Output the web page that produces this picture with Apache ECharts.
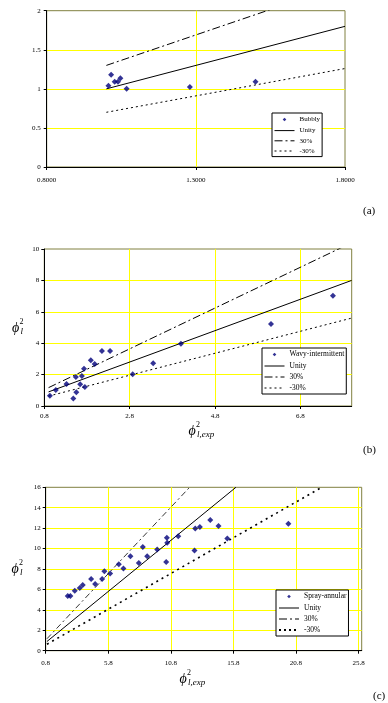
<!DOCTYPE html>
<html><head><meta charset="utf-8">
<script src="https://cdn.jsdelivr.net/npm/echarts@6/dist/echarts.min.js"></script>
<style>html,body{margin:0;padding:0;background:#fff}#c{width:388px;height:703px}</style>
</head><body><div id="c"></div>
<script>
// ---- Panel (a): Bubbly ----
const bubblyX = [1.007, 1.016, 1.028, 1.039, 1.047, 1.068, 1.280, 1.500];
const bubblyY = [1.04, 1.18, 1.09, 1.09, 1.135, 1.00, 1.025, 1.09];
const aLineX = [1.0, 1.8];
const aUnityY = [1.0, 1.8];
const aPlusY = [1.3, 2.34];
const aMinusY = [0.7, 1.26];
const aXTicks = [0.8, 1.3, 1.8];

// ---- Panel (b): Wavy-intermittent ----
const wavyX = [0.93, 1.07, 1.32, 1.48, 1.54, 1.55, 1.64, 1.68, 1.73, 1.75, 1.89, 1.98, 2.15, 2.34, 2.87, 3.35, 4.00, 6.11, 7.56];
const wavyY = [0.66, 1.02, 1.40, 0.47, 1.85, 0.87, 1.38, 1.91, 2.38, 1.21, 2.91, 2.68, 3.50, 3.50, 2.02, 2.72, 3.97, 5.22, 7.03];
const bLineX = [0.9, 8.0];
const bUnityY = [0.9, 8.0];
const bPlusY = [1.17, 10.4];
const bMinusY = [0.63, 5.6];
const bXTicks = [0.8, 2.8, 4.8, 6.8];

// ---- Panel (c): Spray-annular ----
const sprayX = [2.56, 2.77, 3.12, 3.52, 3.76, 4.43, 4.75, 5.31, 5.49, 5.95, 6.64, 7.01, 7.57, 8.24, 8.56, 8.91, 9.71, 10.43, 10.48, 10.51, 11.39, 12.69, 12.75, 13.12, 13.95, 14.61, 15.31, 20.19];
const sprayY = [5.36, 5.36, 5.88, 6.14, 6.44, 7.03, 6.54, 7.03, 7.78, 7.55, 8.46, 8.04, 9.25, 8.59, 10.16, 9.25, 9.90, 8.69, 11.05, 10.56, 11.21, 9.80, 11.96, 12.12, 12.81, 12.22, 10.98, 12.42];
const cUnityX = [0.9, 16.0];
const cUnityY = [0.9, 16.0];
const cPlusX = [0.9, 12.3];
const cPlusY = [1.17, 16.0];
const cMinusX = [0.9, 22.86];
const cMinusY = [0.63, 16.0];
const cXTicks = [0.8, 5.8, 10.8, 15.8, 20.8, 25.8];

const FONT = 'Liberation Serif';
const zip = (xs, ys) => xs.map((x, i) => [x, ys[i]]);

function xAx(gi, min, max, ticks, fmt, margin, showLast) {
  return {
    type: 'value', gridIndex: gi, min: min, max: max,
    axisLine: { show: true, onZero: false, lineStyle: { color: '#000', width: 1 } },
    axisTick: { show: true, customValues: ticks, length: 3, lineStyle: { color: '#000' } },
    axisLabel: { customValues: ticks, formatter: fmt, margin: margin, fontSize: 7, fontFamily: FONT, color: '#000' },
    splitLine: { show: true, showMinLine: false, showMaxLine: showLast, lineStyle: { color: '#ffff00', width: 1 } }
  };
}
function yAx(gi, min, max, interval, margin) {
  return {
    type: 'value', gridIndex: gi, min: min, max: max, interval: interval,
    axisLine: { show: true, onZero: false, lineStyle: { color: '#000', width: 1 } },
    axisTick: { show: true, length: 3, lineStyle: { color: '#000' } },
    axisLabel: { margin: margin, fontSize: 7, fontFamily: FONT, color: '#000' },
    splitLine: { show: true, showMinLine: false, showMaxLine: false, lineStyle: { color: '#ffff00', width: 1 } }
  };
}
function scatter(name, gi, xs, ys) {
  return { name: name, type: 'scatter', xAxisIndex: gi, yAxisIndex: gi, data: zip(xs, ys),
    symbol: 'diamond', symbolSize: 6, itemStyle: { color: '#00007a' }, z: 5 };
}
function ln(name, gi, xs, ys, dash, w) {
  return { name: name, type: 'line', xAxisIndex: gi, yAxisIndex: gi, data: zip(xs, ys),
    symbol: 'none', showSymbol: false, clip: true, silent: true,
    lineStyle: { color: '#000', width: w || 1, type: dash }, itemStyle: { color: '#000' }, z: 3 };
}
const DASHDOT = [8, 3, 2, 3];
const DOT = [2, 3];
const DOT_ICON = 'path://M0,0M10,10M5,3L7,5L5,7L3,5Z';
const HIDE_SYM = { color: 'rgba(0,0,0,0)', borderWidth: 0, borderColor: 'rgba(0,0,0,0)', opacity: 0 };

function legend(left, top, names, fs, extra) {
  const data = names.map((n, i) => i === 0 ? { name: n, icon: DOT_ICON }
    : Object.assign({ name: n, itemStyle: HIDE_SYM, lineStyle: { width: 1 } }, (extra && extra[n]) || {}));
  return {
    orient: 'vertical', left: left, top: top, data: data, selectedMode: false,
    backgroundColor: '#fff', borderColor: '#000', borderWidth: 1,
    padding: [2, 2, 2, 2], itemGap: 3, itemWidth: 20, itemHeight: 9, symbolKeepAspect: true,
    textStyle: { fontSize: fs, fontFamily: FONT, color: '#000' }, z: 10
  };
}

function phi(x, y, subText, big) {
  const fs = big || 14;
  return [
    { type: 'text', x: x, y: y, style: { text: 'ϕ', font: 'italic ' + fs + 'px "' + FONT + '"', fill: '#000', textAlign: 'center', textVerticalAlign: 'middle' } },
    { type: 'text', x: x + 4, y: y - 6, style: { text: '2', font: '8px "' + FONT + '"', fill: '#000', textAlign: 'left', textVerticalAlign: 'middle' } },
    { type: 'text', x: x + 5, y: y + 4, style: { text: subText, font: 'italic 9px "' + FONT + '"', fill: '#000', textAlign: 'left', textVerticalAlign: 'middle' } }
  ];
}
function tag(x, y, t) {
  return { type: 'text', x: x, y: y, style: { text: t, font: '11px "' + FONT + '"', fill: '#000', textAlign: 'left', textVerticalAlign: 'middle' } };
}

const chart = echarts.init(document.getElementById('c'), null, { renderer: 'canvas' });
chart.setOption({
  animation: false,
  backgroundColor: '#fff',
  grid: [
    { left: 46.7, top: 10.7, width: 298.3, height: 156.3, show: true, borderColor: '#808040', borderWidth: 1, backgroundColor: 'transparent' },
    { left: 44.3, top: 249, width: 307.4, height: 157, show: true, borderColor: '#808040', borderWidth: 1, backgroundColor: 'transparent' },
    { left: 45.7, top: 487.3, width: 316, height: 163.4, show: true, borderColor: '#808040', borderWidth: 1, backgroundColor: 'transparent' }
  ],
  xAxis: [
    xAx(0, 0.8, 1.8, aXTicks, v => v.toFixed(4), 10, false),
    xAx(1, 0.8, 8.0, bXTicks, v => String(Math.round(v * 10) / 10), 7, true),
    xAx(2, 0.8, 26.05, cXTicks, v => String(Math.round(v * 10) / 10), 9, true)
  ],
  yAxis: [
    yAx(0, 0, 2, 0.5, 6),
    yAx(1, 0, 10, 2, 5),
    yAx(2, 0, 16, 2, 5)
  ],
  legend: [
    legend(272, 113, ['Bubbly', 'Unity', '30%', '-30%'], 7),
    legend(262, 348, ['Wavy-intermittent', 'Unity', '30%', '-30%'], 7.5),
    legend(276, 590, ['Spray-annular', 'Unity', '30%', '-30%'], 7.5, { '-30%': { itemStyle: HIDE_SYM, lineStyle: { width: 2 } } })
  ],
  series: [
    scatter('Bubbly', 0, bubblyX, bubblyY),
    ln('Unity', 0, aLineX, aUnityY, 'solid'),
    ln('30%', 0, aLineX, aPlusY, DASHDOT),
    ln('-30%', 0, aLineX, aMinusY, DOT),
    scatter('Wavy-intermittent', 1, wavyX, wavyY),
    ln('Unity', 1, bLineX, bUnityY, 'solid'),
    ln('30%', 1, bLineX, bPlusY, DASHDOT),
    ln('-30%', 1, bLineX, bMinusY, DOT),
    scatter('Spray-annular', 2, sprayX, sprayY),
    ln('Unity', 2, cUnityX, cUnityY, 'solid'),
    ln('30%', 2, cPlusX, cPlusY, [6, 3, 2, 3], 0.8),
    ln('-30%', 2, cMinusX, cMinusY, [2, 4], 1.6)
  ],
  graphic: [
    tag(363, 211, '(a)'),
    tag(363, 450, '(b)'),
    tag(373, 696, '(c)')
  ].concat(phi(15.5, 328, 'l'), phi(192, 431, 'l,exp'), phi(15, 569, 'l'), phi(183, 679, 'l,exp'))
});
</script>
</body></html>
